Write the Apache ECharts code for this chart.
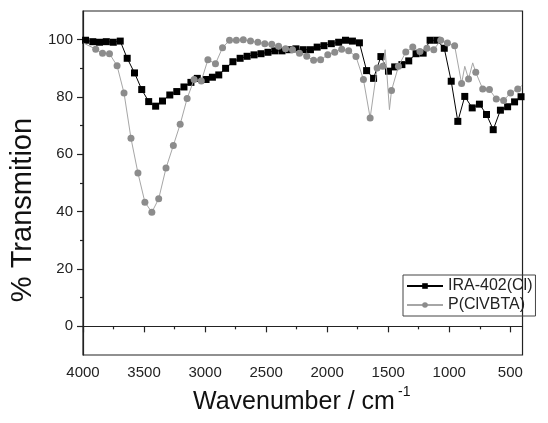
<!DOCTYPE html>
<html><head><meta charset="utf-8">
<script src="https://cdn.jsdelivr.net/npm/echarts@6/dist/echarts.min.js"></script>
<style>html,body{margin:0;padding:0;background:#fff}#c{width:548px;height:423px}</style>
</head><body><div id="c"></div>
<script>
// ---- data ----
const xMajorTicks = [500, 1000, 1500, 2000, 2500, 3000, 3500, 4000];
const xMinorTicks = [750, 1250, 1750, 2250, 2750, 3250, 3750];
const yMajorTicks = [0, 20, 40, 60, 80, 100];
const yMinorTicks = [10, 30, 50, 70, 90];

const iraName = 'IRA-402(Cl)';
const iraWavenumber = [3979, 3920, 3865, 3809, 3752, 3695, 3638, 3578, 3519, 3462, 3405, 3349, 3289, 3232, 3173, 3116, 3064, 2992, 2940, 2888, 2832, 2772, 2713, 2656, 2599, 2542, 2485, 2429, 2370, 2312, 2256, 2196, 2137, 2082, 2026, 1966, 1906, 1850, 1793, 1736, 1677, 1620, 1560, 1498, 1447, 1388, 1332, 1272, 1214, 1157, 1101, 1041, 984, 930, 873, 812, 753, 695, 640, 581, 522, 465, 412];
const iraTransmission = [99.8, 99.3, 99.1, 99.3, 99.1, 99.5, 93.5, 88.4, 82.6, 78.4, 76.8, 78.6, 80.7, 81.9, 83.5, 85.1, 86.5, 86.1, 86.9, 87.7, 90.0, 92.3, 93.5, 94.2, 94.7, 95.1, 95.6, 96.1, 96.1, 96.5, 96.8, 96.5, 96.5, 97.4, 97.9, 98.6, 99.1, 99.8, 99.5, 98.9, 89.2, 86.5, 94.1, 89.0, 90.5, 91.3, 92.6, 95.1, 95.3, 99.8, 99.8, 97.0, 85.5, 71.5, 80.2, 76.2, 77.5, 73.9, 68.6, 75.4, 76.6, 78.3, 80.1];
const iraLineOnlyWavenumber = [];
const iraLineOnlyTransmission = [];

const pName = 'P(ClVBTA)';
const pWavenumber = [3896, 3840, 3783, 3721, 3664, 3607, 3550, 3493, 3436, 3380, 3320, 3260, 3204, 3147, 3090, 3031, 2977, 2915, 2857, 2800, 2744, 2687, 2628, 2568, 2511, 2454, 2398, 2341, 2284, 2227, 2167, 2111, 2054, 1995, 1938, 1881, 1824, 1764, 1703, 1648, 1591, 1545, 1473, 1416, 1356, 1299, 1240, 1183, 1127, 1070, 1015, 956, 899, 842, 783, 726, 671, 615, 555, 498, 439];
const pTransmission = [96.7, 95.3, 95.1, 90.9, 81.4, 65.6, 53.5, 43.3, 39.8, 44.5, 55.2, 63.1, 70.5, 79.5, 86.1, 85.6, 93.0, 91.6, 97.2, 99.8, 99.8, 100.0, 99.5, 99.1, 98.6, 98.4, 97.7, 96.8, 96.5, 95.3, 94.2, 92.8, 93.0, 94.7, 95.6, 96.7, 96.1, 94.1, 86.1, 72.7, 90.1, 90.7, 82.3, 90.7, 95.7, 97.4, 95.9, 97.0, 96.5, 99.8, 98.8, 97.9, 84.7, 86.3, 88.6, 82.8, 82.6, 79.3, 78.8, 81.4, 82.8];
const pLineOnlyWavenumber = [3995, 1525, 1490, 873, 808, 405];
const pLineOnlyTransmission = [98.8, 96.5, 75.6, 90.7, 91.9, 84.0];

const xTitle = 'Wavenumber / cm';
const xTitleSup = '-1';
const yTitle = '% Transmition';

// ---- build ----
function buildData(wn, t, lwn, lt) {
  const pts = wn.map((w, i) => ({ value: [w, t[i]] }))
    .concat(lwn.map((w, i) => ({ value: [w, lt[i]], symbol: 'none' })));
  pts.sort((a, b) => b.value[0] - a.value[0]);
  return pts;
}
const FONT = 'Liberation Sans, Arial, Helvetica, sans-serif';
const AX = '#222';
const plain = (v) => String(v);

const chart = echarts.init(document.getElementById('c'), null, { renderer: 'canvas' });
chart.setOption({
  animation: false,
  backgroundColor: '#fff',
  textStyle: { fontFamily: FONT },
  grid: { left: 83, right: 2, top: 11, bottom: 68, show: true, borderColor: AX, borderWidth: 1.2, backgroundColor: 'transparent' },
  xAxis: [
    {
      type: 'value', min: 400, max: 4000, inverse: true, position: 'bottom',
      axisLine: { show: true, lineStyle: { color: AX, width: 1.2 } },
      axisTick: { show: true, inside: false, length: 6, lineStyle: { color: AX, width: 1.2 }, customValues: xMajorTicks },
      axisLabel: { show: true, customValues: xMajorTicks, formatter: plain, fontSize: 15, color: '#222', fontFamily: FONT, margin: 10 },
      splitLine: { show: false }
    },
    {
      type: 'value', min: 400, max: 4000, inverse: true, position: 'bottom', gridIndex: 0,
      axisLine: { show: false },
      axisTick: { show: true, inside: false, length: 3, lineStyle: { color: AX, width: 1.2 }, customValues: xMinorTicks },
      axisLabel: { show: false },
      splitLine: { show: false }
    }
  ],
  yAxis: [
    {
      type: 'value', min: -10, max: 110, position: 'left',
      axisLine: { show: true, lineStyle: { color: AX, width: 1.2 } },
      axisTick: { show: true, inside: false, length: 6, lineStyle: { color: AX, width: 1.2 }, customValues: yMajorTicks },
      axisLabel: { show: true, customValues: yMajorTicks, formatter: plain, fontSize: 15, color: '#222', fontFamily: FONT, margin: 10 },
      splitLine: { show: false }
    },
    {
      type: 'value', min: -10, max: 110, position: 'left', gridIndex: 0,
      axisLine: { show: false },
      axisTick: { show: true, inside: false, length: 3, lineStyle: { color: AX, width: 1.2 }, customValues: yMinorTicks },
      axisLabel: { show: false },
      splitLine: { show: false }
    }
  ],
  legend: {
    left: 403, top: 275, orient: 'vertical',
    padding: [3, 3, 3, 3], itemGap: 3, itemWidth: 36, itemHeight: 7,
    borderColor: '#444', borderWidth: 1,
    textStyle: { fontSize: 16, color: '#222', fontFamily: FONT },
    data: [iraName, pName]
  },
  series: [
    {
      name: iraName, type: 'line', xAxisIndex: 0, yAxisIndex: 0,
      data: buildData(iraWavenumber, iraTransmission, iraLineOnlyWavenumber, iraLineOnlyTransmission),
      symbol: 'rect', symbolSize: 7, showAllSymbol: true,
      lineStyle: { color: '#000', width: 1 },
      itemStyle: { color: '#000' }, z: 3
    },
    {
      name: pName, type: 'line', xAxisIndex: 0, yAxisIndex: 0,
      data: buildData(pWavenumber, pTransmission, pLineOnlyWavenumber, pLineOnlyTransmission),
      symbol: 'circle', symbolSize: 7, showAllSymbol: true,
      lineStyle: { color: '#a6a6a6', width: 1 },
      itemStyle: { color: '#8c8c8c' }, z: 4
    }
  ],
  graphic: [
    { type: 'text', left: 193, top: 390, style: { text: xTitle, fontSize: 25, fill: '#111', fontFamily: FONT } },
    { type: 'text', left: 398, top: 385, style: { text: xTitleSup, fontSize: 14, fill: '#111', fontFamily: FONT } },
    { type: 'text', x: 23, y: 210, rotation: Math.PI / 2, style: { text: yTitle, fontSize: 29, fill: '#111', fontFamily: FONT, align: 'center', verticalAlign: 'middle' } }
  ]
});
</script>
</body></html>
